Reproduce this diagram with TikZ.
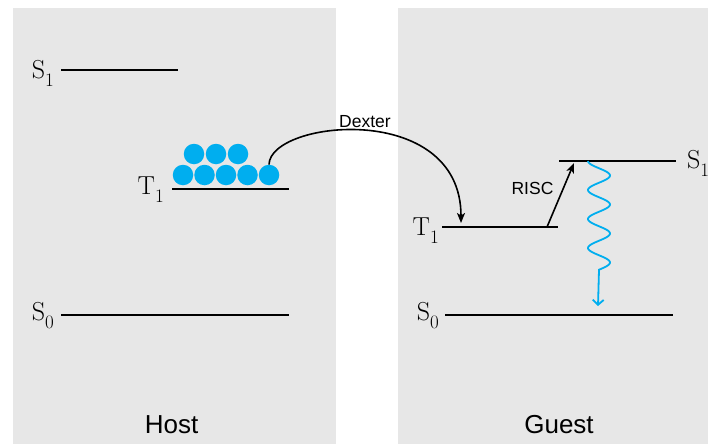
\documentclass[tikz,border=0pt]{standalone}
\usepackage{fontspec}
\newfontfamily\lsans{Liberation Sans}
\usetikzlibrary{arrows.meta}
\definecolor{panel}{RGB}{231,231,231}
\definecolor{exc}{RGB}{0,174,239}
\newcommand{\lvsub}[2]{#1\raisebox{-8pt}{\fontsize{19}{20}\selectfont #2}}
\begin{document}
\begin{tikzpicture}[x=1pt,y=-1pt,
  level/.style={line width=1.8pt},
  lvlabel/.style={inner sep=0pt, anchor=base east, font=\fontsize{26}{30}\selectfont},
  exciton/.style={circle, fill=exc, inner sep=0pt, minimum size=20.5pt},
  panelname/.style={font=\lsans\fontsize{26}{30}\selectfont, anchor=base, inner sep=0pt},
  proc/.style={font=\lsans\fontsize{17.5}{20}\selectfont, anchor=base, inner sep=0pt},
  conn/.style={line width=1.6pt, -{Stealth[length=10pt,width=8pt,inset=2.5pt]}},
  wave/.style={draw=exc, line width=1.8pt, -{Straight Barb[length=5pt,width=11pt]}}
]
\useasboundingbox (0,0) rectangle (708,444);
% panels
\fill[panel] (13,8) rectangle (336,444);
\fill[panel] (398,8) rectangle (708,444);
% host levels
\coordinate (hS1a) at (61,70);  \coordinate (hS1b) at (178,70);
\coordinate (hT1a) at (172,189); \coordinate (hT1b) at (289,189);
\coordinate (hS0a) at (61,315); \coordinate (hS0b) at (289,315);
\draw[level] (hS1a) -- (hS1b);
\draw[level] (hT1a) -- (hT1b);
\draw[level] (hS0a) -- (hS0b);
% guest levels
\coordinate (gT1a) at (442,227); \coordinate (gT1b) at (558,227);
\coordinate (gS1a) at (559,161); \coordinate (gS1b) at (676,161);
\coordinate (gS0a) at (445,315); \coordinate (gS0b) at (673,315);
\draw[level] (gT1a) -- (gT1b);
\draw[level] (gS1a) -- (gS1b);
\draw[level] (gS0a) -- (gS0b);
% level labels
\node[lvlabel] (hS1l) at (54,78) {\lvsub{S}{1}};
\node[lvlabel] (hT1l) at (164,194) {\lvsub{T}{1}};
\node[lvlabel] (hS0l) at (54,320) {\lvsub{S}{0}};
\node[lvlabel] (gT1l) at (439,235) {\lvsub{T}{1}};
\node[lvlabel] (gS0l) at (439,320) {\lvsub{S}{0}};
\node[lvlabel, anchor=base west] (gS1l) at (687,168) {\lvsub{S}{1}};
% excitons
\node[exciton] (e1) at (183,175) {};
\node[exciton] (e2) at (204.5,175) {};
\node[exciton] (e3) at (226,175) {};
\node[exciton] (e4) at (247.5,175) {};
\node[exciton] (e5) at (269,175) {};
\node[exciton] (e6) at (194,154) {};
\node[exciton] (e7) at (216,154) {};
\node[exciton] (e8) at (238,154) {};
% Dexter transfer
\coordinate (dexEnd) at (461,223);
\draw[conn] (e5.north) .. controls (270,120) and (461,100) .. (dexEnd);
\node[proc] (dex) at (365,127) {Dexter};
% RISC
\coordinate (riscA) at (547,227);
\coordinate (riscB) at (574,163);
\draw[conn] (riscA) -- (riscB);
\node[proc] (risc) at (532.5,194) {RISC};
% fluorescence wave
\coordinate (wEnd) at (598,306);
\draw[wave] plot[domain=0:1350, samples=120, variable=\t] ({599-11*cos(\t)}, {161+\t/360*29}) -- (wEnd);
% panel names
\node[panelname] (host) at (171.5,433) {Host};
\node[panelname] (guest) at (559,433) {Guest};
\end{tikzpicture}
\end{document}
